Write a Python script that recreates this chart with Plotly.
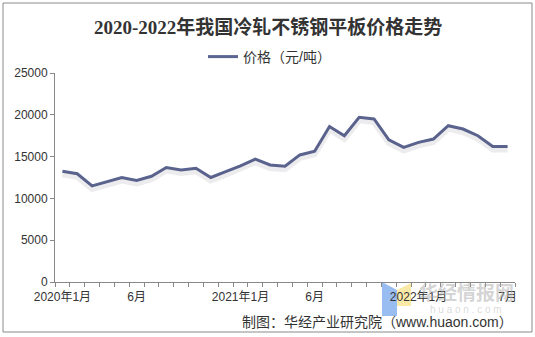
import plotly.graph_objects as go

# Monthly price of cold-rolled stainless steel plate, Jan 2020 - Jul 2022 (yuan/ton)
months = [
    "2020-01", "2020-02", "2020-03", "2020-04", "2020-05", "2020-06",
    "2020-07", "2020-08", "2020-09", "2020-10", "2020-11", "2020-12",
    "2021-01", "2021-02", "2021-03", "2021-04", "2021-05", "2021-06",
    "2021-07", "2021-08", "2021-09", "2021-10", "2021-11", "2021-12",
    "2022-01", "2022-02", "2022-03", "2022-04", "2022-05", "2022-06",
    "2022-07",
]
prices = [
    13250, 12950, 11500, 12000, 12500, 12150,
    12650, 13700, 13400, 13600, 12500, 13200,
    13900, 14700, 14000, 13850, 15200, 15650,
    18600, 17500, 19700, 19500, 17000, 16100,
    16700, 17100, 18700, 18300, 17500, 16200,
    16200,
]
label_positions = [0, 5, 12, 17, 24, 30]
label_texts = ["2020年1月", "6月", "2021年1月", "6月", "2022年1月", "7月"]
y_ticks = [0, 5000, 10000, 15000, 20000, 25000]

WIDTH, HEIGHT = 535, 337
LEFT, RIGHT, TOP, BOTTOM = 55, 515, 73, 282
PW, PH = RIGHT - LEFT, BOTTOM - TOP


def px(x):
    return (x - LEFT) / PW


def py(y):
    return (BOTTOM - y) / PH


LINE = "#5b6591"
AXIS = "#888888"
TEXT = "#333333"
SANS = "Liberation Sans, Arial, Noto Sans CJK SC, sans-serif"

idx = list(range(len(months)))
shadow_shift = 3 * 25000 / PH

fig = go.Figure()
# soft drop shadow under the line, drawn on an offset twin axis
fig.add_trace(go.Scatter(
    x=idx, y=prices, mode="lines", yaxis="y2", showlegend=False,
    hoverinfo="skip",
    line=dict(color="rgba(80,80,100,0.11)", width=6),
))
fig.add_trace(go.Scatter(
    x=idx, y=prices, mode="lines", name="价格（元/吨）",
    customdata=months,
    line=dict(color=LINE, width=3),
))

fig.update_layout(
    width=WIDTH, height=HEIGHT,
    margin=dict(l=LEFT, r=WIDTH - RIGHT, t=TOP, b=HEIGHT - BOTTOM, pad=0),
    paper_bgcolor="white", plot_bgcolor="white",
    showlegend=True,
    legend=dict(
        orientation="h", x=px(203), y=py(41), xanchor="left", yanchor="top",
        font=dict(family=SANS, size=14, color=TEXT),
        bgcolor="rgba(0,0,0,0)", itemwidth=30,
    ),
    xaxis=dict(
        range=[-0.5, len(months) - 0.5],
        tickmode="array", tickvals=label_positions, ticktext=label_texts,
        ticks="", showline=True, linecolor=AXIS, linewidth=1,
        showgrid=False, zeroline=False, ticklabelstandoff=4,
        tickfont=dict(family=SANS, size=12, color=TEXT),
        minor=dict(tick0=-0.5, dtick=1, ticks="outside", ticklen=4,
                   tickcolor=AXIS, showgrid=False),
    ),
    yaxis=dict(
        range=[0, 25000], tickmode="array", tickvals=y_ticks,
        tickformat="d",
        ticks="outside", ticklen=4, tickcolor=AXIS,
        showline=True, linecolor=AXIS, linewidth=1,
        showgrid=False, zeroline=False,
        tickfont=dict(family=SANS, size=12, color=TEXT),
    ),
    yaxis2=dict(
        range=[shadow_shift, 25000 + shadow_shift], overlaying="y",
        visible=False,
    ),
)

# chart title
fig.add_annotation(
    x=px(267.5), y=py(27), xref="paper", yref="paper",
    xanchor="center", yanchor="middle", showarrow=False,
    text="<b>2020-2022年我国冷轧不锈钢平板价格走势</b>",
    font=dict(family="Liberation Serif, Noto Sans CJK SC, serif", size=19,
              color=TEXT),
)

# watermark logo and lettering
fig.add_shape(type="path", xref="paper", yref="paper",
              path=f"M {px(382)} {py(282)} L {px(397)} {py(290)} "
                   f"L {px(397)} {py(316)} L {px(382)} {py(316)} Z",
              fillcolor="rgba(110,160,235,0.7)", line=dict(width=0),
              layer="below")
fig.add_shape(type="path", xref="paper", yref="paper",
              path=f"M {px(397)} {py(290)} L {px(411)} {py(283)} "
                   f"L {px(411)} {py(306)} L {px(397)} {py(306)} Z",
              fillcolor="rgba(250,225,130,0.7)", line=dict(width=0),
              layer="below")
fig.add_annotation(
    x=px(466), y=py(291), xref="paper", yref="paper",
    xanchor="center", yanchor="middle", showarrow=False,
    text="<b>华经情报网</b>",
    font=dict(family="Noto Sans CJK SC", size=19,
              color="rgba(170,170,170,0.5)"),
)
fig.add_annotation(
    x=px(466), y=py(309), xref="paper", yref="paper",
    xanchor="center", yanchor="middle", showarrow=False,
    text="h u a o n . c o m",
    font=dict(family=SANS, size=10, color="rgba(170,170,170,0.45)"),
)

# source note
fig.add_annotation(
    x=px(515), y=py(322), xref="paper", yref="paper",
    xanchor="right", yanchor="middle", showarrow=False,
    text="制图：华经产业研究院（www.huaon.com）",
    font=dict(family=SANS, size=14, color=TEXT),
)

# outer frame
fig.add_shape(type="rect", xref="paper", yref="paper",
              x0=px(3), x1=px(532), y0=py(3), y1=py(332),
              line=dict(color="#8a8a8a", width=1))

fig.write_html("out.html")
